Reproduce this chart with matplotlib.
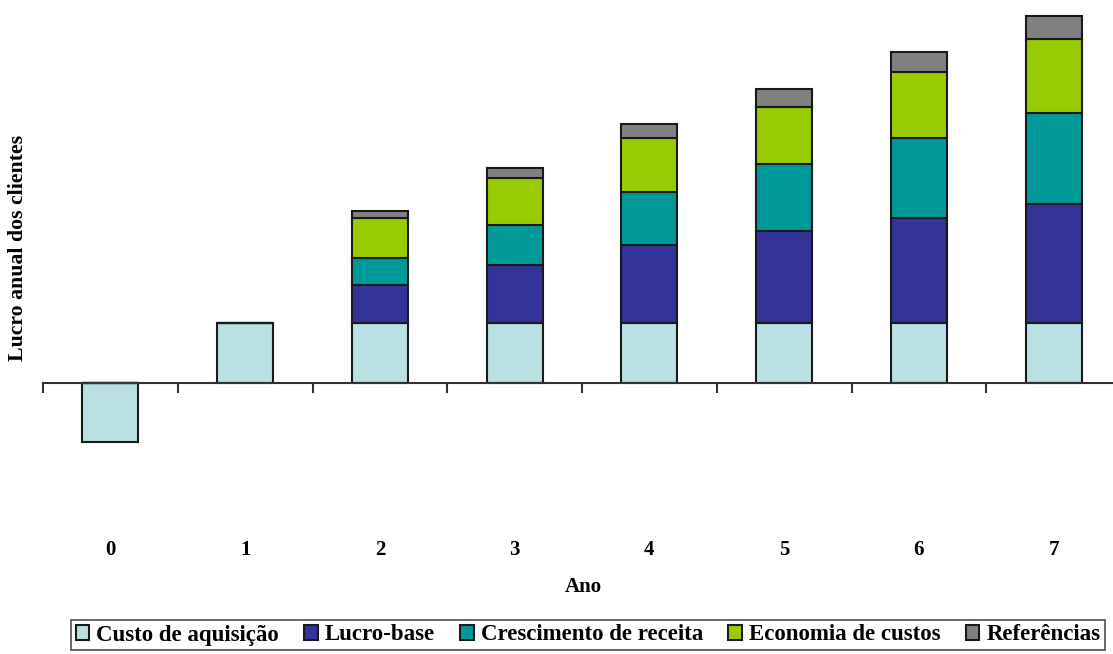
import numpy as np
import matplotlib
matplotlib.use('Agg')
import matplotlib.pyplot as plt
from matplotlib.ticker import FixedLocator

plt.rcParams['font.family'] = ['Liberation Serif', 'DejaVu Serif']
plt.rcParams['font.weight'] = 'bold'

# Customer profit per year, split by source
anos = ['0', '1', '2', '3', '4', '5', '6', '7']
custo_aquisicao = [-59, 60, 60, 60, 60, 60, 60, 60]
lucro_base = [0, 0, 38, 58, 78, 92, 105, 119]
crescimento_receita = [0, 0, 27, 40, 53, 67, 80, 91]
economia_custos = [0, 0, 40, 47, 54, 57, 66, 74]
referencias = [0, 0, 7, 10, 14, 18, 20, 23]

series = [
    ('Custo de aquisição', custo_aquisicao, '#BBE0E3'),
    ('Lucro-base', lucro_base, '#333399'),
    ('Crescimento de receita', crescimento_receita, '#009999'),
    ('Economia de custos', economia_custos, '#99CC00'),
    ('Referências', referencias, '#808080'),
]

fig = plt.figure(figsize=(11.13, 6.54), dpi=100)
ax = fig.add_axes([43 / 1113, 134 / 654, 1078 / 1113, 510 / 654])

x = np.arange(len(anos))
bottom = np.zeros(len(anos))
for label, vals, colour in series:
    vals = np.array(vals, dtype=float)
    ax.bar(x, vals, width=0.415, bottom=bottom, color=colour,
           edgecolor='#1a1a1a', linewidth=1.5, label=label, zorder=2)
    bottom += np.where(vals > 0, vals, 0)

ax.set_xlim(-0.5, 7.5)
ax.set_ylim(-137, 373)

# Category axis crosses at zero, ticks between the categories
for side in ['left', 'right', 'top']:
    ax.spines[side].set_visible(False)
ax.spines['bottom'].set_position(('data', 0))
ax.spines['bottom'].set_linewidth(1.5)
ax.spines['bottom'].set_color('#333333')
ax.spines['bottom'].set_zorder(3)
ax.set_yticks([])

ax.set_xticks(x)
ax.set_xticklabels(anos, fontsize=15, fontweight='bold')
ax.xaxis.set_minor_locator(FixedLocator(np.arange(-0.5, 8.0, 1.0)))
ax.tick_params(axis='x', which='major', length=0, pad=113)
ax.tick_params(axis='x', which='minor', length=7, width=1.5, color='#333333', direction='out')

fig.text(583 / 1113, 1 - 587 / 654, 'Ano', ha='center', va='center',
         fontsize=15, fontweight='bold')
fig.text(18 / 1113, 1 - 248 / 654, 'Lucro anual dos clientes', ha='center', va='center',
         rotation=90, fontsize=15.7, fontweight='bold')

leg = fig.legend(loc='center', bbox_to_anchor=(588 / 1113, 1 - 635 / 654), ncol=5,
                 frameon=True, fancybox=False, edgecolor='#222222',
                 prop={'size': 16.5, 'weight': 'bold'},
                 handlelength=0.6, handleheight=0.6, handletextpad=0.3,
                 columnspacing=1.1, borderpad=0.2, borderaxespad=0)
leg.get_frame().set_linewidth(1.2)

fig.savefig('out.png', dpi=100)
